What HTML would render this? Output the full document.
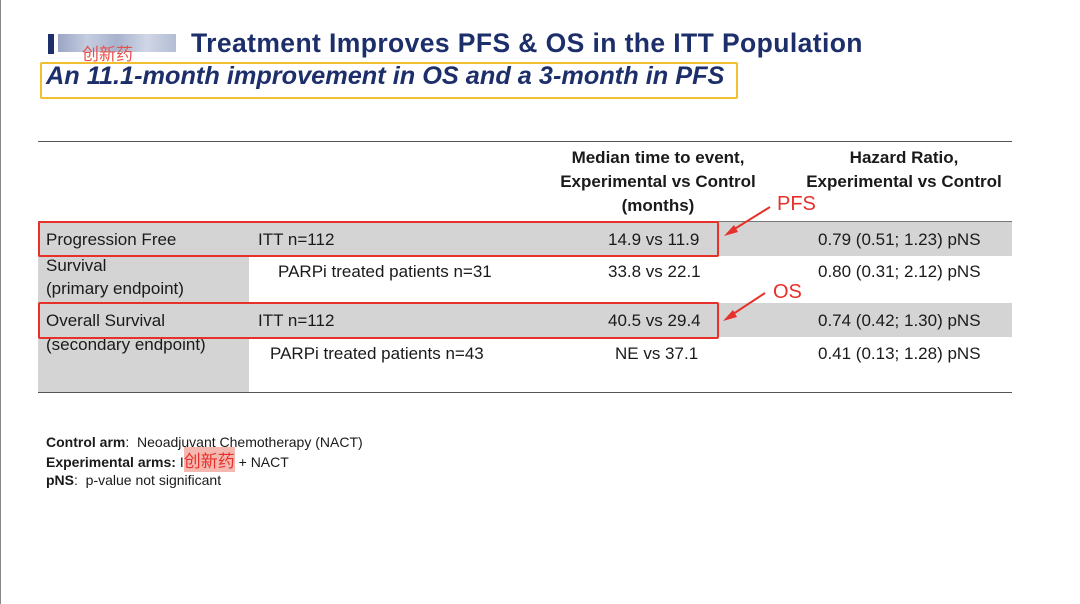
<!DOCTYPE html>
<html><head><meta charset="utf-8"><style>
body{margin:0;width:1080px;height:604px;background:#fff;position:relative;overflow:hidden;font-family:"Liberation Sans","Noto Sans CJK SC",sans-serif;}
div{position:absolute;}
.t{color:#1a1a1a;font-size:17px;white-space:nowrap;}
.h{font-weight:bold;font-size:17px;text-align:center;color:#1a1a1a;line-height:24px;}
.g{background:#d4d4d4;}
.red{border:2.5px solid #e8302a;border-radius:2px;}
</style></head><body>
<div style="left:0;top:0;width:1px;height:604px;background:#888"></div>
<div style="left:48px;top:34px;width:6px;height:20px;background:#1d2f6b"></div>
<div style="left:58px;top:34px;width:118px;height:18px;background:linear-gradient(90deg,#9aa6c4,#c5cde0,#a7b2cc,#d0d6e6,#b3bdd3)"></div>
<div style="left:82px;top:40px;color:#e8504a;font-size:17px;font-family:'Noto Sans CJK SC',sans-serif">创新药</div>
<div style="left:191px;top:28px;font-size:26.5px;font-weight:bold;color:#1d2f6b;letter-spacing:0.4px;white-space:nowrap">Treatment Improves PFS &amp; OS in the ITT Population</div>
<div style="left:40px;top:62px;width:694px;height:33px;border:2.5px solid #f0c030;border-radius:2px"></div>
<div style="left:46px;top:62px;font-size:25.3px;font-weight:bold;font-style:italic;color:#1d2f6b;white-space:nowrap">An 11.1-month improvement in OS and a 3-month in PFS</div>

<div style="left:38px;top:141px;width:974px;height:1px;background:#555"></div>
<div style="left:38px;top:221px;width:974px;height:1px;background:#777"></div>
<div style="left:38px;top:392px;width:974px;height:1px;background:#555"></div>
<div class="g" style="left:38px;top:222px;width:974px;height:34px"></div>
<div class="g" style="left:38px;top:222px;width:211px;height:170px"></div>
<div class="g" style="left:38px;top:303px;width:974px;height:34px"></div>

<div class="h" style="left:540px;top:146px;width:236px">Median time to event,<br>Experimental vs Control<br>(months)</div>
<div class="h" style="left:795px;top:146px;width:218px">Hazard Ratio,<br>Experimental vs Control</div>

<div class="t" style="left:46px;top:230px">Progression Free</div>
<div class="t" style="left:46px;top:254px;line-height:23px">Survival<br>(primary endpoint)</div>
<div class="t" style="left:258px;top:230px">ITT n=112</div>
<div class="t" style="left:608px;top:230px">14.9 vs 11.9</div>
<div class="t" style="left:818px;top:230px">0.79 (0.51; 1.23) pNS</div>
<div class="t" style="left:278px;top:262px">PARPi treated patients n=31</div>
<div class="t" style="left:608px;top:262px">33.8 vs 22.1</div>
<div class="t" style="left:818px;top:262px">0.80 (0.31; 2.12) pNS</div>

<div class="t" style="left:46px;top:311px">Overall Survival</div>
<div class="t" style="left:46px;top:335px">(secondary endpoint)</div>
<div class="t" style="left:258px;top:311px">ITT n=112</div>
<div class="t" style="left:608px;top:311px">40.5 vs 29.4</div>
<div class="t" style="left:818px;top:311px">0.74 (0.42; 1.30) pNS</div>
<div class="t" style="left:270px;top:344px">PARPi treated patients n=43</div>
<div class="t" style="left:615px;top:344px">NE vs 37.1</div>
<div class="t" style="left:818px;top:344px">0.41 (0.13; 1.28) pNS</div>

<div class="red" style="left:38px;top:221px;width:677px;height:32px"></div>
<div class="red" style="left:38px;top:302px;width:677px;height:33px"></div>
<svg style="position:absolute;left:0;top:0" width="1080" height="604">
<line x1="770" y1="207" x2="728" y2="233" stroke="#e8302a" stroke-width="2"/>
<polygon points="724,236 734,225 738,232" fill="#e8302a"/>
<line x1="765" y1="293" x2="727" y2="318" stroke="#e8302a" stroke-width="2"/>
<polygon points="723,321 733,310 737,317" fill="#e8302a"/>
</svg>
<div style="left:777px;top:193px;color:#e8302a;font-size:20px">PFS</div>
<div style="left:773px;top:281px;color:#e8302a;font-size:20px">OS</div>

<div class="t" style="left:46px;top:434px;font-size:14px"><b>Control arm</b>:&nbsp; Neoadjuvant Chemotherapy (NACT)</div>
<div class="t" style="left:46px;top:453px;font-size:14px"><b>Experimental arms:</b> I<span style="background:#f4b8b0;color:#e8302a;font-size:17px;font-family:'Noto Sans CJK SC',sans-serif;line-height:14px">创新药</span> + NACT</div>
<div class="t" style="left:46px;top:472px;font-size:14px"><b>pNS</b>:&nbsp; p-value not significant</div>
</body></html>
